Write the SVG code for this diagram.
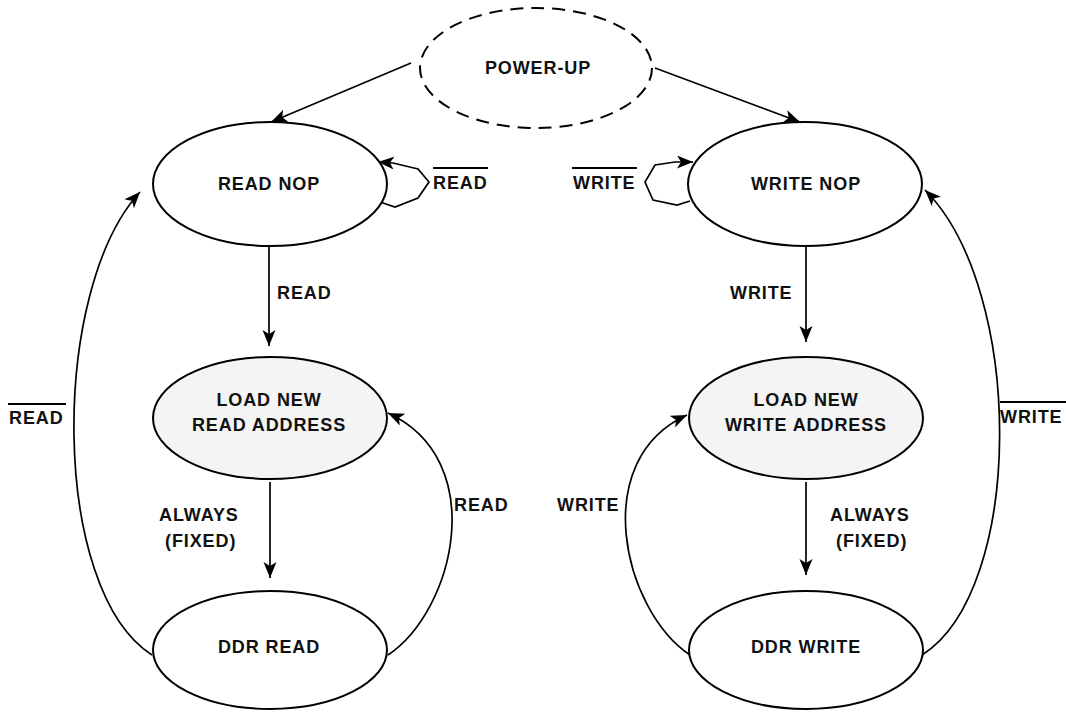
<svg xmlns="http://www.w3.org/2000/svg" width="1066" height="712" viewBox="0 0 1066 712">
<style>
.node{fill:#ffffff;stroke:#000;stroke-width:2}
.shaded{fill:#f4f4f4}
.dashed{stroke-dasharray:13 8}
.lbl{font-family:"Liberation Sans",Arial,sans-serif;font-weight:bold;font-size:18px;letter-spacing:0.9px;fill:#111}
.edge{fill:none;stroke:#000;stroke-width:1.7}
.arr{marker-end:url(#ah)}
.ov{stroke:#000;stroke-width:2}
</style>
<defs>
<marker id="ah" markerUnits="userSpaceOnUse" markerWidth="18" markerHeight="14" refX="16" refY="6.5" orient="auto">
<path d="M0,0 L16,6.5 L0,13 L4,6.5 z" fill="#000"/>
</marker>
</defs>
<rect width="1066" height="712" fill="#fff"/>
<g id="connectors">
<path class="edge arr" d="M411,63 L271,122"/>
<path class="edge arr" d="M655,68 L800,122"/>
<path class="edge arr" d="M380,202 L395,207 L418,198 L429,182 L418,169 L393,163 L378,162"/>
<path class="edge arr" d="M690,201 L677,205 L653,200 L645,182 L655,165 L675,162 L693,162"/>
<path class="edge arr" d="M269,247 L269,346"/>
<path class="edge arr" d="M806,247 L806,342"/>
<path class="edge arr" d="M270,482 L270,578"/>
<path class="edge arr" d="M806,482 L806,575"/>
<path class="edge arr" d="M388,655 C455,610 490,460 388,413"/>
<path class="edge arr" d="M690,655 C623,610 588,460 687,415"/>
<path class="edge arr" d="M152,655 C50,590 50,290 140,192"/>
<path class="edge arr" d="M922,655 C1025,590 1025,290 925,190"/>
</g>
<g id="power-up">
<ellipse class="node dashed" cx="536" cy="68" rx="116" ry="60"/>
<text class="lbl" x="538" y="74" text-anchor="middle">POWER-UP</text>
</g>
<g id="read-nop">
<ellipse class="node" cx="270" cy="184" rx="117" ry="62"/>
<text class="lbl" x="269" y="190" text-anchor="middle">READ NOP</text>
</g>
<g id="write-nop">
<ellipse class="node" cx="805" cy="184" rx="117" ry="62"/>
<text class="lbl" x="806" y="190" text-anchor="middle">WRITE NOP</text>
</g>
<g id="load-read">
<ellipse class="node shaded" cx="270" cy="418" rx="117" ry="61"/>
<text class="lbl" x="269" y="406" text-anchor="middle">LOAD NEW</text>
<text class="lbl" x="269" y="431" text-anchor="middle">READ ADDRESS</text>
</g>
<g id="load-write">
<ellipse class="node shaded" cx="806" cy="418" rx="117" ry="61"/>
<text class="lbl" x="806" y="406" text-anchor="middle">LOAD NEW</text>
<text class="lbl" x="806" y="431" text-anchor="middle">WRITE ADDRESS</text>
</g>
<g id="ddr-read">
<ellipse class="node" cx="270" cy="650" rx="117" ry="59"/>
<text class="lbl" x="269" y="653" text-anchor="middle">DDR READ</text>
</g>
<g id="ddr-write">
<ellipse class="node" cx="806" cy="650" rx="117" ry="59"/>
<text class="lbl" x="806" y="653" text-anchor="middle">DDR WRITE</text>
</g>
<g id="labels">
<text class="lbl" x="277" y="299">READ</text>
<text class="lbl" x="730" y="299">WRITE</text>
<text class="lbl" x="159" y="521">ALWAYS</text>
<text class="lbl" x="165" y="547">(FIXED)</text>
<text class="lbl" x="830" y="521">ALWAYS</text>
<text class="lbl" x="836" y="547">(FIXED)</text>
<text class="lbl" x="454" y="511">READ</text>
<text class="lbl" x="557" y="511">WRITE</text>
<text class="lbl" x="433" y="189">READ</text>
<line class="ov" x1="433" y1="168" x2="488" y2="168"/>
<text class="lbl" x="573" y="189">WRITE</text>
<line class="ov" x1="572" y1="168" x2="637" y2="168"/>
<text class="lbl" x="9" y="424">READ</text>
<line class="ov" x1="8" y1="404" x2="66" y2="404"/>
<text class="lbl" x="1000" y="423">WRITE</text>
<line class="ov" x1="1000" y1="402" x2="1066" y2="402"/>
</g>
</svg>
